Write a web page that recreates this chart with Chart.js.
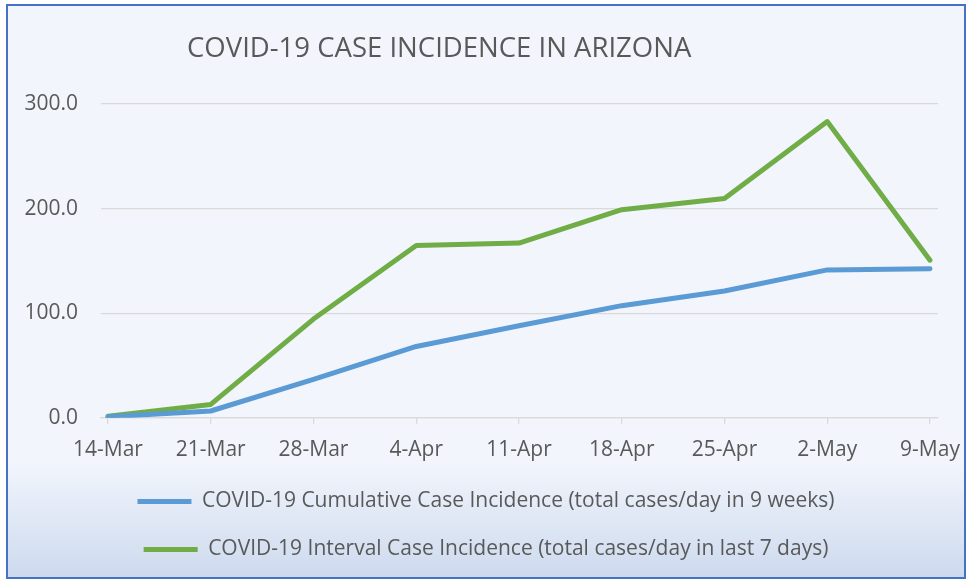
<!DOCTYPE html>
<html lang="en">
  <head>
    <meta charset="UTF-8" />
    <title>COVID-19 Case Incidence in Arizona</title>
    <script src="https://cdn.jsdelivr.net/npm/chart.js@4.4.0/dist/chart.umd.min.js"></script>
    <style>
      body { margin: 0; background: #ffffff; }
      #frame {
        position: absolute;
        left: 6px;
        top: 4px;
        width: 956px;
        height: 571px;
        border: 2px solid #4472c4;
        background: linear-gradient(to bottom, #f2f5fc 0%, #f2f5fc 80%, #cddaee 100%);
      }
    </style>
  </head>
  <body>
    <div id="frame"><canvas id="myChart"></canvas></div>

    <script>
      const weeks = ['14-Mar', '21-Mar', '28-Mar', '4-Apr', '11-Apr', '18-Apr', '25-Apr', '2-May', '9-May'];
      const cumulative = [1.0, 6.5, 36.8, 68.2, 88.0, 107.2, 121.2, 141.4, 142.4];
      const interval = [1.5, 12.8, 94.4, 164.8, 167.0, 199.0, 209.6, 283.2, 150.7];
      const yTicks = [0, 100, 200, 300];

      const chartTitle = 'COVID-19 CASE INCIDENCE IN ARIZONA';
      const textColor = '#595959';
      const gridColor = '#d9d9d9';
      const fontFamily = "'Open Sans', 'Noto Sans', sans-serif";

      // title is drawn by hand so it can sit a bit left of centre like the original
      const titlePlugin = {
        id: 'sheetTitle',
        afterDraw(chart) {
          const ctx = chart.ctx;
          ctx.save();
          ctx.fillStyle = textColor;
          ctx.font = '27.5px ' + fontFamily;
          ctx.textAlign = 'center';
          ctx.textBaseline = 'middle';
          ctx.fillText(chartTitle, chart.width * 0.451, 43);
          ctx.restore();
        }
      };

      const ctx = document.getElementById('myChart').getContext('2d');
      const myChart = new Chart(ctx, {
        type: 'line',
        data: {
          datasets: [
            {
              label: 'COVID-19 Cumulative Case Incidence (total cases/day in 9 weeks)',
              data: cumulative.map((v, i) => ({ x: i, y: v })),
              borderColor: '#5b9bd5',
              backgroundColor: '#5b9bd5',
              borderWidth: 5,
              borderCapStyle: 'round',
              borderJoinStyle: 'round',
              pointRadius: 0,
              fill: false
            },
            {
              label: 'COVID-19 Interval Case Incidence (total cases/day in last 7 days)',
              data: interval.map((v, i) => ({ x: i, y: v })),
              borderColor: '#70ad47',
              backgroundColor: '#70ad47',
              borderWidth: 5,
              borderCapStyle: 'round',
              borderJoinStyle: 'round',
              pointRadius: 0,
              fill: false
            }
          ]
        },
        options: {
          responsive: true,
          maintainAspectRatio: false,
          animation: false,
          layout: {
            padding: { top: 98, left: 0, right: 0, bottom: 7 }
          },
          plugins: {
            title: { display: false },
            tooltip: { enabled: false },
            legend: {
              position: 'bottom',
              labels: {
                color: textColor,
                font: { family: fontFamily, size: 21 },
                usePointStyle: true,
                pointStyle: 'line',
                pointStyleWidth: 54,
                padding: 27
              }
            }
          },
          scales: {
            x: {
              type: 'linear',
              min: -0.068,
              max: 8.078,
              afterFit: (scale) => {
                scale.height -= 13;
                scale.paddingLeft = 0;
                scale.paddingRight = 26;
              },
              grid: {
                drawOnChartArea: false,
                drawTicks: true,
                tickLength: 6,
                color: gridColor,
                lineWidth: 1.3
              },
              border: { display: true, color: gridColor, width: 1.3 },
              ticks: {
                stepSize: 1,
                includeBounds: false,
                autoSkip: false,
                maxRotation: 0,
                padding: 14,
                color: textColor,
                font: { family: fontFamily, size: 21 },
                callback: (v) => weeks[v]
              }
            },
            y: {
              min: yTicks[0],
              max: yTicks[yTicks.length - 1],
              afterFit: (scale) => { scale.width = 93; },
              grid: {
                color: gridColor,
                lineWidth: 1.3,
                drawTicks: false
              },
              border: { display: false },
              ticks: {
                stepSize: 100,
                padding: 23,
                color: textColor,
                font: { family: fontFamily, size: 21 },
                callback: (v) => v.toFixed(1)
              }
            }
          }
        },
        plugins: [titlePlugin]
      });
    </script>
  </body>
</html>
